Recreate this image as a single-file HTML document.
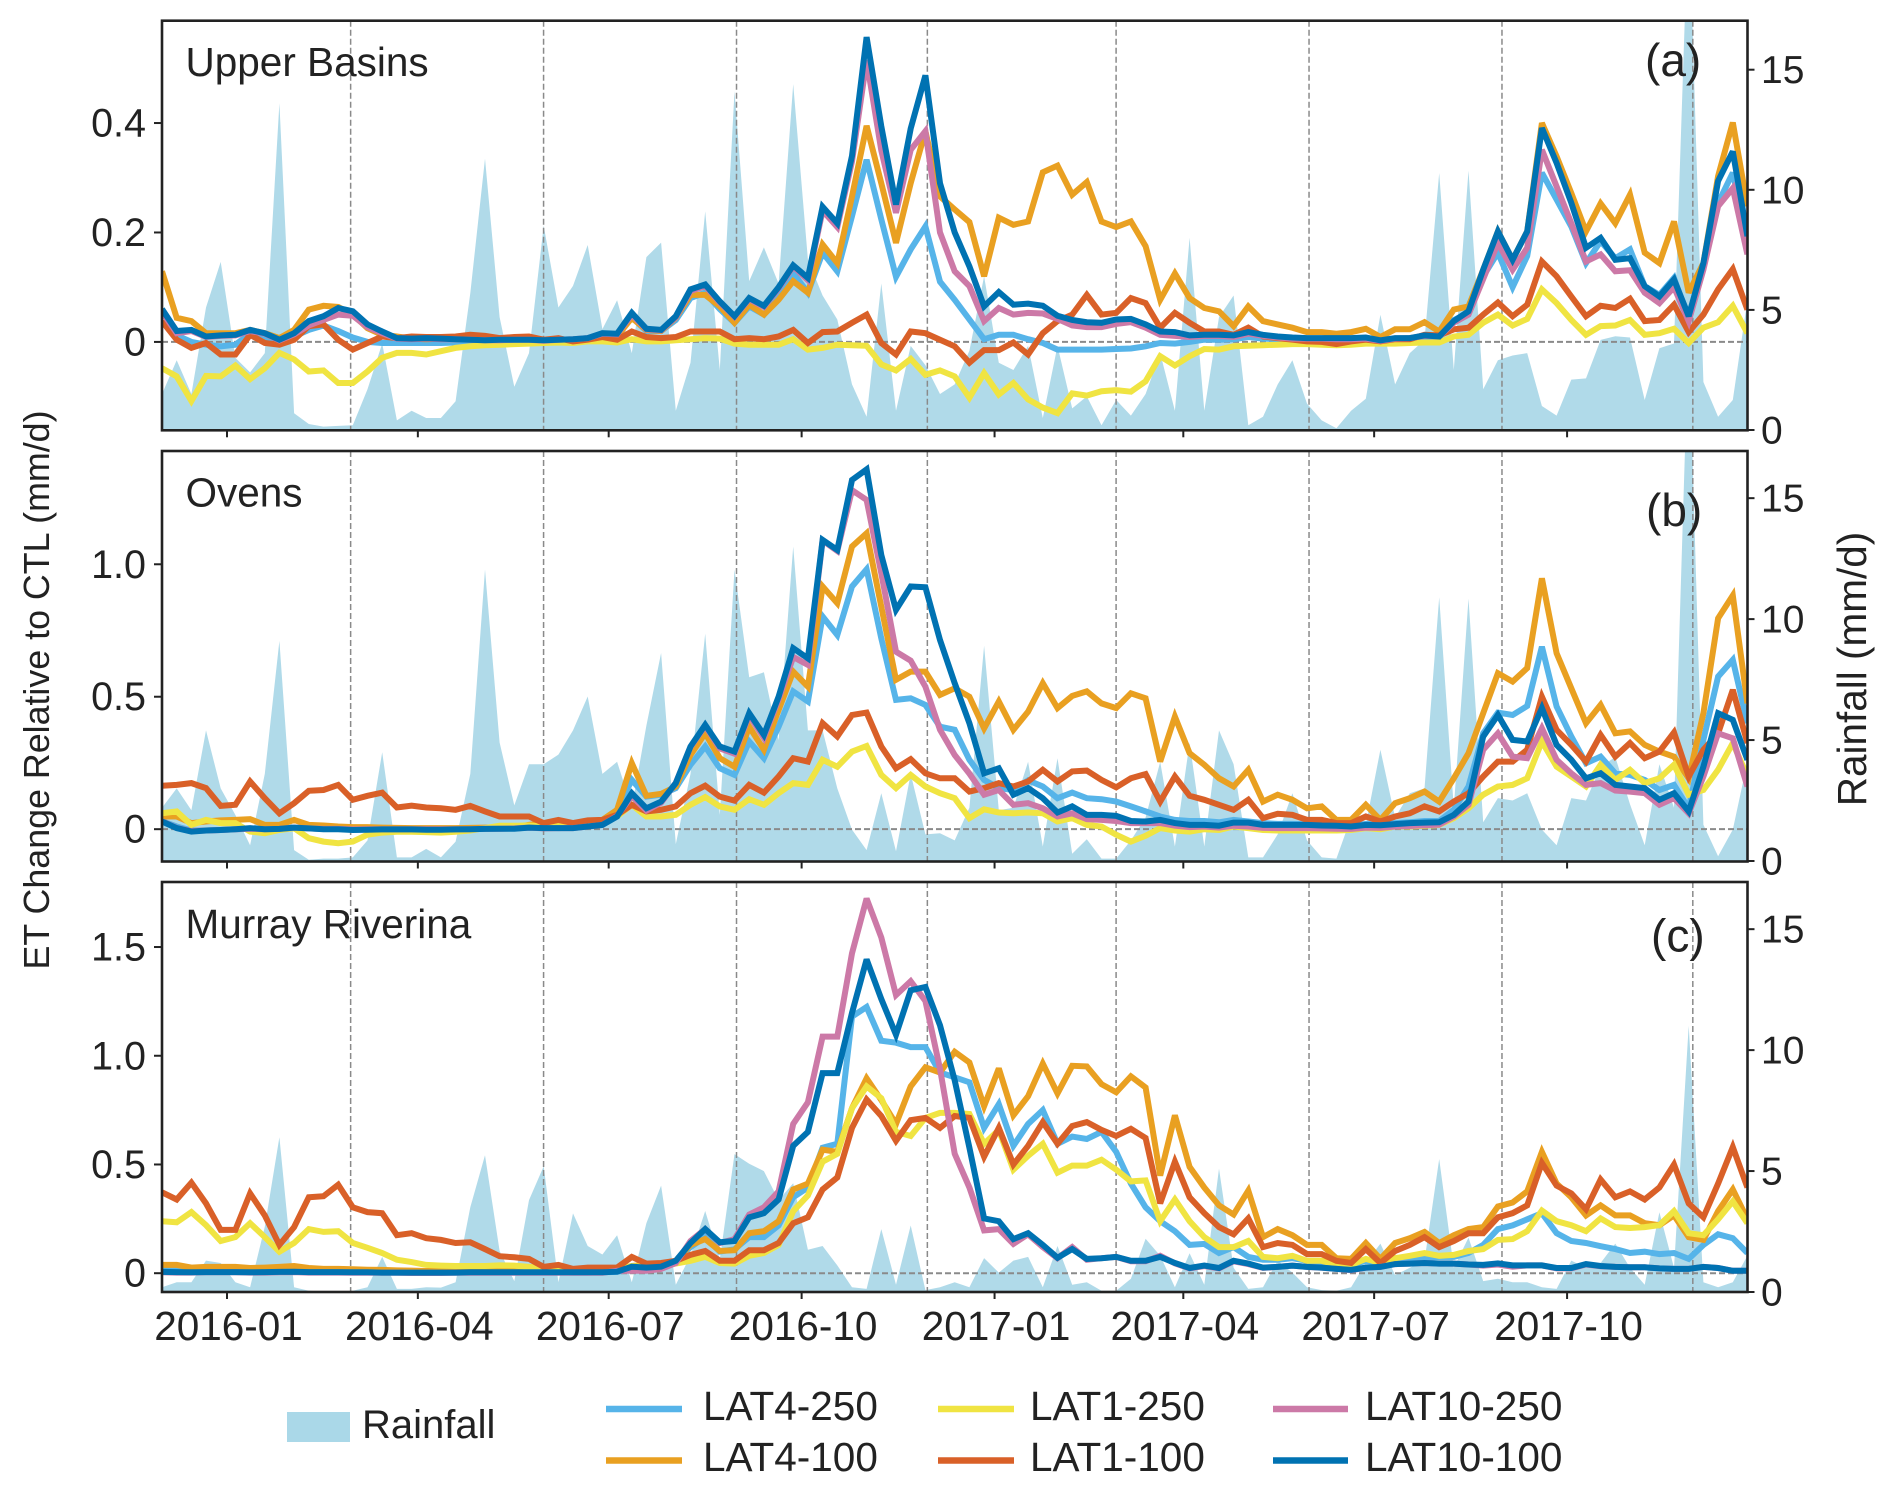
<!DOCTYPE html>
<html lang="en">
<head>
<meta charset="utf-8">
<title>ET Change Relative to CTL</title>
<style>
html,body{margin:0;padding:0;background:#fff;}
svg{display:block;font-family:"Liberation Sans",Arial,sans-serif;fill:#222;}
text{fill:#222;}
</style>
</head>
<body>
<svg id="chart" xmlns="http://www.w3.org/2000/svg" width="1892" height="1492" viewBox="0 0 1892 1492">
  <rect x="0" y="0" width="1892" height="1492" fill="#fff"/>
  <text transform="translate(49,690) rotate(-90)" text-anchor="middle" font-size="35.8">ET Change Relative to CTL (mm/d)</text>
  <text transform="translate(1866,669) rotate(-90)" text-anchor="middle" font-size="40.5">Rainfall (mm/d)</text>
  <g>
    <rect x="287" y="1412" width="63" height="30" fill="#aad8e8"/>
    <text x="362" y="1438" font-size="40">Rainfall</text>
    <line x1="606" x2="682" y1="1409" y2="1409" stroke="#56b4e9" stroke-width="6.5"/>
    <text x="703" y="1420" font-size="40.5">LAT4-250</text>
    <line x1="606" x2="682" y1="1460.5" y2="1460.5" stroke="#e9a021" stroke-width="6.5"/>
    <text x="703" y="1471" font-size="40.5">LAT4-100</text>
    <line x1="938" x2="1014" y1="1409" y2="1409" stroke="#f0e442" stroke-width="6.5"/>
    <text x="1030" y="1420" font-size="40.5">LAT1-250</text>
    <line x1="938" x2="1014" y1="1460.5" y2="1460.5" stroke="#d96028" stroke-width="6.5"/>
    <text x="1030" y="1471" font-size="40.5">LAT1-100</text>
    <line x1="1273" x2="1348" y1="1409" y2="1409" stroke="#cc79a7" stroke-width="6.5"/>
    <text x="1365" y="1420" font-size="40.5">LAT10-250</text>
    <line x1="1273" x2="1348" y1="1460.5" y2="1460.5" stroke="#0072b2" stroke-width="6.5"/>
    <text x="1365" y="1471" font-size="40.5">LAT10-100</text>
  </g>
</svg>
<script>
// ---- shared axis categories ----
const startDate = '2015-12-01';
const stepDays = 7;
const monthTicks = ['2016-01','2016-04','2016-07','2016-10','2017-01','2017-04','2017-07','2017-10'];
const seasonBoundaries = ['2016-03-01','2016-06-01','2016-09-01','2016-12-01','2017-03-01','2017-06-01','2017-09-01','2017-12-01'];
const rainTicks = [0,5,10,15];
const ticksA = [0,0.2,0.4];
const ticksB = [0,0.5,1.0];
const ticksC = [0,0.5,1.0,1.5];
const tickLabelsA = ['0','0.2','0.4'];
const tickLabelsB = ['0','0.5','1.0'];
const tickLabelsC = ['0','0.5','1.0','1.5'];

// ---- Panel (a) Upper Basins ----
const rainA = [1.5,2.9,1.5,5.1,7.0,3.0,2.4,3.2,13.6,0.7,
.25,.14,.17,.2,1.7,3.6,.4,.8,.5,.5,
1.2,5.7,11.3,4.7,1.8,3.2,8.5,5.1,6.0,7.7,
4.2,5.4,3.2,7.2,7.8,.8,2.8,9.1,2.5,14.1,
6.2,7.6,6.1,14.4,7.1,5.6,4.6,1.9,.55,6.1,
.8,3.5,2.7,1.5,1.9,3.3,6.4,2.8,2.5,3.5,
.5,3.5,.9,1.4,.2,1.25,.6,1.5,3.2,.8,
8,.8,4.7,5.6,.2,.55,1.9,2.9,1.1,.4,
.07,.8,1.3,4.8,1.9,3.2,3.75,10.7,2.5,10.8,
1.7,2.9,3.1,3.2,1,.6,2.1,2.15,3.75,3.9,
3.85,1.25,3.4,3.6,22,2,.55,1.25,5.4];
const lat4_250A = [.06,.012,0,-.005,-.008,-.005,.015,.008,0,.01,
.022,.03,.02,.008,0,-.002,-.002,-.002,-.002,-.002,
-.001,0,.001,.001,.002,.002,.001,.002,.002,.005,
.013,.012,.045,.02,.02,.04,.08,.09,.06,.035,
.065,.05,.085,.126,.09,.163,.129,.23,.333,.224,
.119,.169,.211,.11,.077,.041,.005,.013,.013,.005,
-.002,-.014,-.014,-.014,-.014,-.013,-.012,-.008,-.002,-.003,
0,.004,.004,.005,.009,.006,.005,.004,.004,.004,
.003,.003,.005,0,.004,.005,.008,.008,.04,.053,
.12,.163,.10,.157,.309,.26,.211,.144,.184,.153,
.169,.102,.086,.117,.04,.138,.254,.309,.187];
const lat4_100A = [.129,.044,.038,.016,.016,.016,.022,.016,.007,.022,
.059,.066,.064,.05,.025,.013,.01,.006,.005,.006,
.005,.006,.004,.005,.004,.003,.003,.005,.002,.006,
.013,.01,.044,.022,.02,.044,.086,.086,.065,.035,
.068,.05,.077,.111,.09,.178,.144,.266,.395,.29,
.181,.29,.385,.266,.242,.219,.12,.227,.214,.22,
.31,.322,.269,.292,.22,.21,.22,.175,.077,.125,
.08,.062,.056,.029,.065,.038,.032,.026,.018,.018,
.015,.018,.024,.009,.023,.023,.036,.019,.059,.065,
.132,.202,.15,.202,.40,.339,.272,.202,.253,.217,
.269,.163,.144,.22,.09,.144,.303,.401,.248];
const lat1_250A = [-.048,-.063,-.108,-.062,-.063,-.043,-.068,-.048,-.02,-.032,
-.054,-.052,-.075,-.075,-.054,-.029,-.02,-.02,-.023,-.017,
-.011,-.008,-.006,-.005,-.004,-.003,-.002,-.001,-.002,.001,
.001,-.001,.005,.001,.001,.003,.005,.007,.006,-.003,
-.005,-.005,-.005,.005,-.014,-.011,-.005,-.006,-.007,-.041,
-.052,-.031,-.06,-.052,-.063,-.102,-.057,-.096,-.075,-.105,
-.12,-.13,-.094,-.098,-.09,-.088,-.091,-.072,-.026,-.043,
-.026,-.013,-.014,-.008,-.007,-.006,-.005,-.004,-.004,-.005,
-.006,-.005,-.003,-.003,-.003,-.002,-.001,-.001,.01,.013,
.035,.05,.03,.042,.096,.071,.04,.013,.029,.03,
.04,.013,.016,.024,-.002,.026,.036,.066,.016];
const lat1_100A = [.038,.004,-.011,-.002,-.023,-.023,.013,-.002,-.005,.004,
.029,.032,.004,-.014,-.002,.01,.007,.01,.009,.009,
.01,.013,.011,.007,.009,.01,.004,.007,.001,.004,
.009,.004,.019,.009,.007,.009,.019,.019,.019,.005,
.007,.005,.01,.022,-.002,.018,.019,.035,.05,-.002,
-.023,.019,.016,.004,-.008,-.038,-.015,-.015,-.001,-.023,
.016,.038,.05,.086,.05,.053,.08,.071,.026,.053,
.035,.019,.019,.013,.026,.01,.007,.004,.001,0,
-.004,.001,.004,.001,.005,.005,.013,.012,.023,.026,
.05,.072,.047,.068,.147,.12,.083,.047,.066,.062,
.079,.038,.04,.068,.018,.05,.096,.133,.059];
const lat10_250A = [.055,.016,.02,.009,.011,.012,.02,.015,.003,.014,
.03,.04,.05,.048,.027,.016,.006,.005,.006,.005,
.005,.004,.003,.003,.004,.004,.002,.004,.005,.007,
.015,.014,.05,.023,.021,.045,.093,.102,.072,.046,
.078,.064,.098,.138,.113,.24,.21,.33,.515,.35,
.236,.351,.385,.2,.129,.102,.038,.062,.05,.053,
.052,.042,.03,.027,.027,.033,.036,.026,.013,.011,
.009,.011,.011,.009,.015,.011,.008,.006,.006,.006,
.005,.005,.006,.002,.006,.007,.011,.01,.035,.05,
.115,.181,.132,.172,.351,.284,.217,.147,.16,.129,
.131,.09,.071,.10,.038,.132,.248,.281,.16];
const lat10_100A = [.06,.02,.022,.01,.012,.013,.022,.016,.004,.016,
.038,.047,.062,.056,.032,.019,.007,.006,.007,.006,
.005,.004,.003,.004,.004,.004,.003,.004,.005,.007,
.016,.015,.053,.024,.022,.047,.096,.105,.074,.047,
.08,.066,.10,.14,.117,.247,.217,.34,.557,.394,
.251,.39,.487,.29,.20,.138,.065,.091,.068,.07,
.066,.048,.04,.036,.035,.041,.042,.032,.019,.018,
.012,.013,.013,.012,.018,.013,.01,.008,.007,.007,
.007,.007,.008,.003,.007,.007,.012,.01,.038,.056,
.132,.202,.15,.202,.391,.327,.254,.172,.19,.15,
.153,.102,.083,.114,.047,.144,.294,.348,.193];

// ---- Panel (b) Ovens ----
const rainB = [2.2,3.0,2.1,5.4,3.0,1.9,.65,3.6,9.1,.45,
.05,.1,.1,.15,.85,4.5,.15,.15,.5,.15,
.8,3.6,12.05,4.9,2.3,4.0,4.0,4.4,5.4,6.8,
3.6,4.1,2.2,5.6,8.6,.7,3.6,9.4,1.9,12.05,
7.6,7.8,5.0,13.0,5.4,5.4,3.0,1.3,.45,2.8,
.4,3.6,1.1,1.15,.85,2.2,8.9,2.1,2.2,4.1,
.6,4.25,.3,.9,.1,.1,.85,1.8,4.1,.6,
4.9,.6,5.4,4.0,.15,.15,1.1,2.8,.85,.15,
.1,1.8,1.5,4.6,1.8,2.8,3.0,10.9,2.2,10.85,
1.6,2.6,2.5,2.8,1.3,.65,2.6,2.5,3.9,4.3,
2.35,.65,4.0,2.2,22,1.5,.2,1.3,4.1];
const lat4_250B = [.03,.01,-.005,-.005,-.003,0,.002,0,.002,.006,
.003,.001,.001,-.001,0,.001,.001,0,0,0,
0,.001,.002,.002,.003,.006,.006,.004,.006,.012,
.02,.073,.186,.123,.13,.155,.243,.312,.23,.205,
.331,.268,.387,.52,.482,.803,.733,.916,.981,.72,
.488,.494,.469,.387,.375,.262,.186,.155,.148,.184,
.161,.117,.138,.117,.113,.104,.086,.067,.048,.035,
.031,.031,.026,.035,.029,.023,.02,.02,.019,.016,
.016,.013,.02,.02,.023,.026,.031,.031,.073,.161,
.362,.44,.431,.465,.689,.463,.35,.249,.274,.211,
.205,.186,.148,.167,.079,.337,.576,.639,.40];
const lat4_100B = [.048,.048,.023,.029,.033,.035,.038,.016,.016,.035,
.016,.014,.01,.008,.008,.006,.005,.004,.004,.004,
.004,.005,.006,.006,.006,.016,.023,.02,.023,.029,
.035,.073,.249,.126,.133,.161,.28,.362,.268,.236,
.387,.30,.45,.595,.538,.916,.853,1.067,1.117,.84,
.564,.595,.595,.507,.532,.50,.381,.482,.375,.444,
.551,.457,.503,.52,.475,.457,.513,.494,.255,.425,
.287,.243,.192,.161,.224,.104,.13,.111,.079,.086,
.035,.035,.092,.035,.098,.117,.142,.104,.192,.287,
.438,.589,.557,.608,.947,.664,.532,.40,.469,.362,
.369,.318,.293,.274,.192,.438,.796,.882,.475];
const lat1_250B = [.06,.067,.016,.035,.023,.023,-.009,-.015,-.003,.004,
-.034,-.047,-.053,-.047,-.021,-.013,-.01,-.01,-.011,-.013,
-.01,-.005,.004,.013,.013,.014,.01,.016,.016,.023,
.031,.048,.092,.048,.048,.054,.092,.121,.086,.073,
.113,.092,.136,.174,.167,.262,.236,.293,.314,.205,
.155,.205,.161,.136,.117,.042,.075,.063,.06,.063,
.06,.029,.042,.016,.01,-.021,-.047,-.025,.004,-.005,
-.009,0,-.003,.01,.004,-.003,-.005,-.005,-.005,-.005,
-.005,-.003,.004,0,.01,.01,.013,.016,.042,.079,
.13,.161,.167,.192,.331,.236,.199,.161,.243,.186,
.224,.174,.192,.243,.13,.148,.224,.325,.2];
const lat1_100B = [.164,.167,.174,.155,.088,.092,.18,.117,.06,.098,
.145,.148,.167,.111,.126,.138,.082,.089,.082,.079,
.073,.088,.067,.048,.048,.048,.023,.035,.023,.033,
.035,.054,.092,.067,.073,.086,.136,.164,.123,.108,
.167,.138,.199,.268,.255,.40,.35,.431,.44,.312,
.23,.264,.211,.192,.192,.142,.155,.174,.161,.18,
.224,.18,.218,.221,.186,.158,.192,.208,.104,.199,
.126,.111,.092,.073,.111,.042,.058,.054,.035,.035,
.023,.023,.048,.029,.048,.06,.086,.067,.104,.136,
.199,.255,.255,.30,.50,.375,.318,.255,.356,.274,
.325,.268,.293,.365,.199,.30,.362,.526,.325];
const lat10_250B = [.03,.005,-.007,-.005,-.003,0,.002,0,.001,.006,
.003,.001,.001,-.001,0,0,0,0,0,0,
0,0,.002,.002,.003,.006,.003,.004,.004,.01,
.016,.05,.125,.07,.1,.175,.31,.39,.305,.285,
.43,.345,.49,.65,.62,1.09,1.05,1.28,1.243,.966,
.67,.636,.538,.375,.28,.21,.13,.148,.092,.098,
.079,.048,.06,.038,.035,.031,.023,.023,.023,.013,
.008,.01,.006,.013,.01,.005,.004,.004,.004,.003,
.002,.001,.006,.005,.01,.012,.015,.017,.048,.092,
.30,.362,.274,.268,.381,.262,.211,.167,.174,.146,
.142,.136,.092,.117,.06,.199,.362,.343,.161];
const lat10_100B = [.029,.004,-.009,-.005,-.003,0,.004,0,.001,.006,
.003,0,0,-.003,-.002,-.001,-.001,-.001,-.002,-.002,
-.001,0,.001,.002,.002,.006,.004,.004,.004,.01,
.016,.048,.136,.079,.104,.174,.312,.394,.312,.293,
.438,.356,.50,.683,.645,1.092,1.054,1.318,1.358,1.035,
.828,.916,.913,.714,.551,.40,.211,.23,.13,.155,
.117,.063,.086,.054,.054,.05,.031,.029,.035,.023,
.016,.016,.013,.025,.025,.016,.016,.016,.016,.014,
.013,.01,.016,.015,.019,.023,.025,.026,.054,.104,
.35,.431,.337,.331,.457,.318,.262,.192,.211,.167,
.161,.155,.111,.136,.067,.236,.438,.413,.262];

// ---- Panel (c) Murray Riverina ----
const rainC = [.2,.4,.4,1.3,1.2,.4,.2,2.7,6.4,.2,
.05,.02,.02,.05,.2,1.45,.13,.13,.2,.18,
.4,3.5,5.65,1.7,.45,3.8,5.2,.4,3.25,1.9,
1.55,2.35,.4,2.85,4.4,.3,1.5,3.35,1.35,5.7,
5.3,5.0,3.8,4.5,1.75,1.9,1.1,.2,.13,2.6,
.3,2.75,.08,.2,.4,.2,1.4,.8,1.3,1.45,
.2,1.9,.3,.4,.05,.05,.55,2.2,1.5,.2,
1.6,.3,5.1,1.0,.13,.2,1.3,.8,.2,.08,
.05,.2,1.2,2.0,.7,1.0,1.3,5.5,1.0,2.25,
.45,.55,.4,.4,.2,.13,1.3,1.0,1.2,2.0,
1.0,.3,3.3,1.0,11.0,.4,.2,.4,1.5];
const lat4_250C = [.02,.018,.012,.012,.012,.013,.01,.012,.015,.022,
.014,.012,.011,.01,.008,.007,.006,.005,.004,.004,
.004,.005,.006,.005,.005,.005,.004,.004,.003,.003,
.004,.006,.02,.02,.03,.057,.12,.166,.10,.11,
.166,.166,.22,.349,.394,.577,.595,1.18,1.224,1.069,
1.06,1.04,1.04,.923,.901,.878,.668,.777,.586,.686,
.75,.595,.628,.617,.65,.558,.412,.303,.239,.193,
.13,.135,.093,.12,.075,.062,.062,.069,.057,.047,
.038,.038,.057,.047,.057,.062,.069,.075,.075,.093,
.13,.203,.22,.248,.276,.184,.148,.139,.124,.111,
.093,.099,.088,.093,.066,.13,.179,.161,.093];
const lat4_100C = [.038,.038,.026,.029,.029,.029,.024,.026,.029,.033,
.024,.02,.02,.018,.016,.015,.013,.012,.01,.01,
.009,.01,.01,.008,.008,.007,.006,.006,.005,.005,
.02,.02,.033,.038,.044,.057,.13,.157,.102,.106,
.184,.193,.239,.385,.412,.568,.558,.759,.896,.796,
.686,.859,.947,.923,1.018,.969,.768,.942,.726,.814,
.964,.827,.954,.951,.869,.832,.905,.854,.449,.726,
.489,.394,.312,.27,.38,.166,.203,.175,.13,.13,
.069,.066,.139,.066,.139,.161,.19,.139,.175,.203,
.212,.307,.325,.376,.558,.412,.349,.266,.312,.266,
.266,.23,.221,.266,.166,.153,.285,.385,.248];
const lat1_250C = [.239,.234,.281,.221,.148,.166,.23,.166,.099,.139,
.203,.19,.193,.139,.117,.093,.062,.051,.038,.035,
.033,.033,.033,.036,.035,.029,.024,.024,.015,.015,
.015,.02,.033,.029,.033,.044,.057,.075,.047,.044,
.08,.093,.13,.285,.358,.513,.549,.759,.859,.805,
.65,.631,.714,.737,.737,.732,.595,.659,.476,.54,
.595,.462,.495,.495,.522,.476,.422,.427,.239,.339,
.239,.166,.12,.12,.148,.075,.069,.08,.057,.057,
.038,.038,.066,.047,.069,.08,.093,.08,.084,.102,
.111,.153,.157,.193,.288,.239,.221,.193,.252,.212,
.208,.212,.221,.285,.184,.175,.248,.33,.23];
const lat1_100C = [.372,.339,.416,.321,.199,.199,.367,.266,.13,.212,
.349,.354,.407,.303,.281,.276,.175,.184,.161,.153,
.139,.142,.111,.078,.073,.066,.029,.038,.02,.026,
.026,.026,.075,.044,.047,.057,.084,.102,.057,.057,
.106,.106,.139,.23,.257,.385,.44,.668,.799,.723,
.609,.704,.714,.668,.723,.714,.536,.668,.50,.586,
.695,.595,.677,.695,.659,.631,.664,.622,.321,.513,
.349,.276,.212,.179,.252,.12,.139,.13,.088,.088,
.057,.047,.111,.047,.102,.13,.166,.12,.148,.184,
.184,.257,.276,.312,.507,.403,.367,.294,.431,.349,
.376,.339,.394,.50,.321,.257,.412,.58,.394];
const lat10_250C = [.004,.003,.003,.004,.004,.004,.003,.003,.004,.005,
.003,.003,.003,.002,.002,.002,.002,.001,.001,.001,
.002,.002,.002,.002,.002,.002,.002,.002,.002,.002,
.002,.011,.011,.011,.02,.047,.148,.203,.139,.157,
.27,.303,.376,.686,.786,1.088,1.088,1.471,1.723,1.544,
1.279,1.343,1.252,.94,.549,.394,.197,.203,.135,.179,
.12,.069,.12,.062,.069,.075,.055,.055,.08,.045,
.022,.033,.022,.055,.042,.025,.029,.035,.029,.025,
.02,.014,.025,.029,.042,.044,.047,.044,.044,.04,
.035,.04,.03,.036,.036,.022,.022,.04,.032,.029,
.027,.027,.022,.02,.02,.029,.024,.011,.011];
const lat10_100C = [.006,.005,.004,.005,.005,.005,.004,.005,.006,.007,
.005,.005,.005,.004,.004,.003,.003,.003,.003,.003,
.003,.004,.004,.004,.004,.004,.004,.004,.004,.004,
.004,.007,.03,.026,.03,.057,.139,.203,.142,.148,
.257,.276,.339,.586,.65,.92,.92,1.197,1.443,1.261,
1.097,1.301,1.316,1.14,.887,.577,.252,.239,.157,.184,
.13,.071,.111,.066,.069,.075,.057,.057,.075,.047,
.024,.035,.024,.057,.044,.026,.029,.035,.029,.026,
.02,.015,.026,.029,.042,.044,.047,.044,.044,.04,
.038,.045,.036,.036,.036,.024,.024,.042,.033,.029,
.027,.027,.022,.02,.02,.029,.024,.011,.011];

const seriesNames = ['LAT4-250','LAT4-100','LAT1-250','LAT1-100','LAT10-250','LAT10-100'];
const seriesColors = ['#56b4e9','#e9a021','#f0e442','#d96028','#cc79a7','#0072b2'];

const panels = [
  {id:'a', title:'Upper Basins', tag:'(a)', top:20.7, bottom:430.3, etMin:-0.1615, etMax:0.587, rainZero:430, rainMax:17.04,
   ticks:ticksA, tickLabels:tickLabelsA, rain:rainA, lines:[lat4_250A,lat4_100A,lat1_250A,lat1_100A,lat10_250A,lat10_100A],
   titleY:76, tagX:1645, tagY:76},
  {id:'b', title:'Ovens', tag:'(b)', top:451, bottom:861.5, etMin:-0.122, etMax:1.4276, rainZero:861, rainMax:16.95,
   ticks:ticksB, tickLabels:tickLabelsB, rain:rainB, lines:[lat4_250B,lat4_100B,lat1_250B,lat1_100B,lat10_250B,lat10_100B],
   titleY:506.5, tagX:1646, tagY:526},
  {id:'c', title:'Murray Riverina', tag:'(c)', top:882, bottom:1292, etMin:-0.0864, etMax:1.799, rainZero:1292, rainMax:16.95,
   ticks:ticksC, tickLabels:tickLabelsC, rain:rainC, lines:[lat4_250C,lat4_100C,lat1_250C,lat1_100C,lat10_250C,lat10_100C],
   titleY:938, tagX:1651, tagY:951.5}
];

const NS = 'http://www.w3.org/2000/svg';
const chart = document.getElementById('chart');
const plotLeft = 162, plotRight = 1747.5;
const pxPerDay = 14.68 / 7;
const dayMs = 86400000;
const startMs = Date.parse(startDate + 'T00:00:00Z');

function xFromDays(d){ return plotLeft + d * pxPerDay; }
function xIndex(i){ return xFromDays(i * stepDays); }
function xDate(s){ return xFromDays((Date.parse((s.length === 7 ? s + '-01' : s) + 'T00:00:00Z') - startMs) / dayMs); }
function mk(tag, parent, attrs){
  const el = document.createElementNS(NS, tag);
  for (const k in attrs) el.setAttribute(k, attrs[k]);
  parent.appendChild(el);
  return el;
}

panels.forEach(function(p){
  const h = p.bottom - p.top;
  const yEt = function(v){ return p.bottom - (v - p.etMin) / (p.etMax - p.etMin) * h; };
  const yRain = function(v){ return p.rainZero - v / p.rainMax * (p.rainZero - p.top); };

  const g = mk('g', chart, {});
  
  

  const defs = mk('defs', g, {});
  const clip = mk('clipPath', defs, {id:'clip-' + p.id});
  mk('rect', clip, {x:plotLeft, y:p.top, width:plotRight - plotLeft, height:h});

  const plot = mk('g', g, {'clip-path':'url(#clip-' + p.id + ')'});
  
  

  // rainfall area
  let d = 'M' + xIndex(0).toFixed(1) + ' ' + p.bottom;
  p.rain.forEach(function(v, i){ d += 'L' + xIndex(i).toFixed(1) + ' ' + yRain(v).toFixed(1); });
  d += 'L' + xIndex(p.rain.length - 1).toFixed(1) + ' ' + p.bottom + 'Z';
  const area = mk('path', plot, {d:d, fill:'#b0dae9', stroke:'none'});
  
  

  // season boundary lines
  seasonBoundaries.forEach(function(s){
    const x = xDate(s) - 2.2;
    const ln = mk('line', plot, {x1:x, x2:x, y1:p.top, y2:p.bottom, stroke:'#8a8a8a', 'stroke-width':1.5, 'stroke-dasharray':'6 3'});
    
    
  });

  // zero line
  const z = mk('line', plot, {x1:plotLeft, x2:plotRight, y1:yEt(0), y2:yEt(0), stroke:'#8a8a8a', 'stroke-width':2, 'stroke-dasharray':'6 3'});
  
  

  // series lines
  p.lines.forEach(function(vals, si){
    const pts = vals.map(function(v, i){ return xIndex(i).toFixed(1) + ',' + yEt(v).toFixed(1); }).join(' ');
    const pl = mk('polyline', plot, {points:pts, fill:'none', stroke:seriesColors[si], 'stroke-width':6, 'stroke-linejoin':'miter', 'stroke-miterlimit':3});
    
    
  });

  // frame
  const frame = mk('rect', g, {x:plotLeft, y:p.top, width:plotRight - plotLeft, height:h, fill:'none', stroke:'#222', 'stroke-width':2.6});
  
  

  // left ticks
  p.ticks.forEach(function(v, i){
    const y = yEt(v);
    const t = mk('line', g, {x1:plotLeft - 8, x2:plotLeft, y1:y, y2:y, stroke:'#222', 'stroke-width':2});
    
    
    const lb = mk('text', g, {x:146, y:y + 13.5, 'text-anchor':'end', 'font-size':39.5});
    lb.textContent = p.tickLabels[i];
    
    
  });

  // right ticks
  rainTicks.forEach(function(v){
    const y = yRain(v);
    const t = mk('line', g, {x1:plotRight, x2:plotRight + 7, y1:y, y2:y, stroke:'#222', 'stroke-width':2});
    
    
    const lb = mk('text', g, {x:1761, y:y + 13.5, 'font-size':39});
    lb.textContent = String(v);
    
    
  });

  // x ticks
  monthTicks.forEach(function(m){
    const x = xDate(m);
    const t = mk('line', g, {x1:x, x2:x, y1:p.bottom, y2:p.bottom + 7, stroke:'#222', 'stroke-width':2});
    
    
    if (p.id === 'c') {
      const lb = mk('text', g, {x:x + 1.5, y:1340, 'text-anchor':'middle', 'font-size':40.5});
      lb.textContent = m;
      
      
    }
  });

  // titles
  const tt = mk('text', g, {x:185.5, y:p.titleY, 'font-size':40.5});
  tt.textContent = p.title;
  
  
  const tg = mk('text', g, {x:p.tagX, y:p.tagY, 'font-size':46});
  tg.textContent = p.tag;
  
  
});
</script>
</body>
</html>
